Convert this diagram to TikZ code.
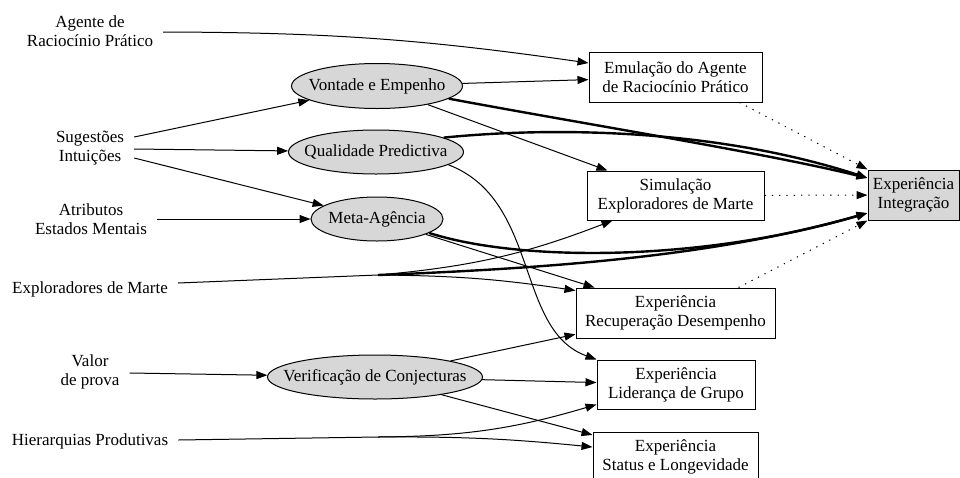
\documentclass[tikz,border=0pt]{standalone}
\usepackage{fontspec}
\setmainfont{Liberation Serif}
\usetikzlibrary{shapes.geometric,arrows.meta}
\definecolor{ovalgray}{RGB}{215,215,215}
\begin{document}
\begin{tikzpicture}[x=1pt,y=-1pt,
  every node/.style={font=\fontsize{17}{19}\selectfont},
  lbl/.style={inner xsep=10pt,inner ysep=2pt,align=center},
  oval/.style={ellipse,draw,fill=ovalgray,line width=1pt,inner sep=0pt,minimum height=44pt},
  card/.style={rectangle,draw,fill=white,line width=1pt,inner sep=0pt,align=center,minimum height=50pt},
  edge/.style={-{Triangle[length=11pt,width=8pt]},line width=1pt},
  heavy/.style={line width=2.4pt},
  dotline/.style={dash pattern=on 1.3pt off 6pt}]
\path[use as bounding box] (0,0) rectangle (960,477);

% sources
\node[lbl] (age) at (90,31)  {Agente de\\Raciocínio Prático};
\node[lbl] (sug) at (90,148) {Sugestões\\Intuições};
\node[lbl] (atr) at (91,219) {Atributos\\Estados Mentais};
\node[lbl] (exp) at (90,289) {Exploradores de Marte};
\node[lbl] (val) at (90,372) {Valor\\de prova};
\node[lbl] (hie) at (90,441) {Hierarquias Produtivas};

% intermediate qualities
\node[oval,minimum width=171pt,minimum height=45pt] (von) at (377,86)  {\makebox[0pt]{Vontade e Empenho}};
\node[oval,minimum width=175pt] (qua) at (376,152) {\makebox[0pt]{Qualidade Predictiva}};
\node[oval,minimum width=132pt] (met) at (377,219) {\makebox[0pt]{Meta-Agência}};
\node[oval,minimum width=215pt] (ver) at (375,377) {\makebox[0pt]{Verificação de Conjecturas}};

% experiences
\node[card,minimum width=173pt] (emu) at (675.5,77)  {Emulação do Agente\\de Raciocínio Prático};
\node[card,minimum width=177pt,minimum height=49pt] (sim) at (675.5,195.5) {Simulação\\Exploradores de Marte};
\node[card,minimum width=91pt,fill=ovalgray] (int) at (913.5,195) {Experiência\\Integração};
\node[card,minimum width=199pt] (rec) at (675.5,313) {Experiência\\Recuperação Desempenho};
\node[card,minimum width=158pt,minimum height=49pt] (lid) at (676,384.5) {Experiência\\Liderança de Grupo};
\node[card,minimum width=165pt] (sta) at (675.5,457) {Experiência\\Status e Longevidade};

% junctions of merged edges
\coordinate (jx) at (378,275);
\coordinate (jh) at (378,437);

% edges into the qualities
\draw[edge] ([yshift=11pt]sug.east) -- (von);
\draw[edge] ([yshift=-1pt]sug.east) -- (qua);
\draw[edge] ([yshift=-10pt]sug.east) -- (met);
\draw[edge] (atr.east) -- (met);
\draw[edge] ([yshift=-1pt]val.east) -- (ver);

% edges into the experiences
\draw[edge] ([yshift=-1pt]age.east) to[bend left=4] ([yshift=14pt]emu.west);
\draw[edge] (von) -- (emu);
\draw[edge] (von) -- (sim);
\draw[edge,heavy] (von.-10) .. controls (590,125) and (760,152) .. ([yshift=17pt]int.west);
\draw[edge,heavy] (qua.12) .. controls (560,126) and (720,130) .. ([yshift=17pt]int.west);
\draw[edge] (qua.-10) .. controls (540,200) and (515,330) .. (lid.north west);
\draw[edge,heavy] (met.-15) .. controls (520,262) and (700,262) .. ([yshift=-18pt]int.west);
\draw[edge] (met) -- (rec);

\draw[line width=1pt] ([yshift=6pt]exp.east) -- (jx);
\draw[edge,heavy] (jx) .. controls (560,268) and (720,255) .. ([yshift=-18pt]int.west);
\draw[edge] (jx) to[bend right=8] ([xshift=-63pt]sim.south);
\draw[edge] (jx) to[bend left=4] ([yshift=-3pt]rec.north west);

\draw[edge] (ver) -- (rec);
\draw[edge] (ver) -- (lid);
\draw[edge] (ver) -- (sta);

\draw[line width=1pt] ([yshift=1pt]hie.east) -- (jh);
\draw[edge] (jh) to[bend right=8] ([yshift=5pt]lid.south west);
\draw[edge] (jh) to[bend left=3] ([yshift=10pt]sta.west);

% integration links
\draw[edge,dotline] ([xshift=64pt]emu.south) -- (int.north west);
\draw[edge,dotline] (sim) -- (int);
\draw[edge,dotline] ([xshift=63pt]rec.north) -- (int.south west);
\end{tikzpicture}
\end{document}
